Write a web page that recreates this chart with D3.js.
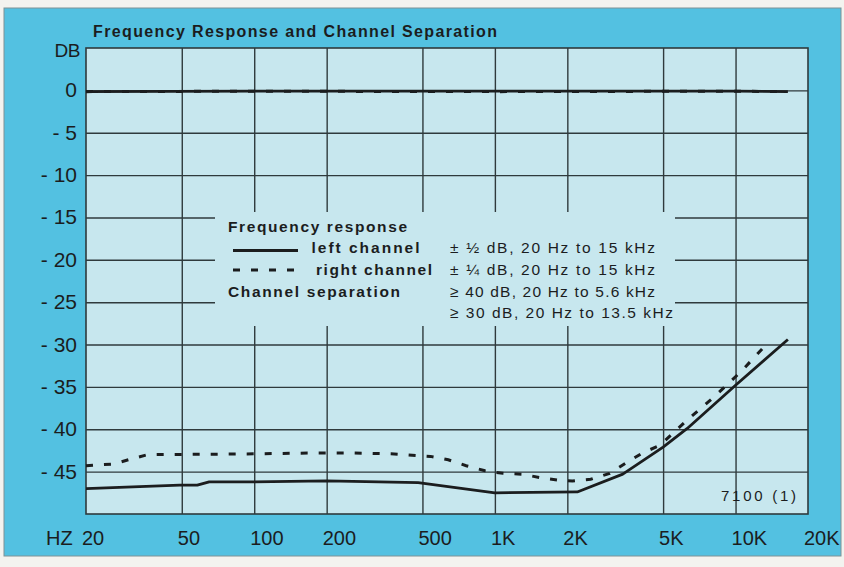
<!DOCTYPE html>
<html>
<head>
<meta charset="utf-8">
<script src="https://cdn.jsdelivr.net/npm/d3@7"></script>
<style>
  html, body { margin: 0; padding: 0; background: #f3f3ef; }
  svg { display: block; }
  text { font-family: "Liberation Sans", Arial, Helvetica, sans-serif; fill: #1b1d1e; }
</style>
</head>
<body>
<svg id="chart" width="844" height="567"></svg>
<script>
// ---------- data ----------
const xTickValues = [20, 50, 100, 200, 500, 1000, 2000, 5000, 10000, 20000];
const xTickLabels = ["20", "50", "100", "200", "500", "1K", "2K", "5K", "10K", "20K"];
const yTickValues = [0, -5, -10, -15, -20, -25, -30, -35, -40, -45];
const yTickLabels = ["0", "- 5", "- 10", "- 15", "- 20", "- 25", "- 30", "- 35", "- 40", "- 45"];

// frequency response (0 dB region)
const leftResponseFreq = [20, 100, 1000, 10000, 16500];
const leftResponseDb   = [-0.15, -0.1, -0.1, -0.1, -0.15];
const rightResponseFreq = [20, 100, 1000, 10000, 16500];
const rightResponseDb   = [-0.15, -0.1, -0.15, -0.1, -0.15];

// channel separation
const leftSepFreq = [20, 49, 58, 65, 100, 200, 480, 1000, 2200, 3400, 5000, 6300, 10000, 16500];
const leftSepDb   = [-47.0, -46.6, -46.6, -46.2, -46.2, -46.1, -46.3, -47.5, -47.4, -45.3, -42.1, -39.9, -34.8, -29.4];
const rightSepFreq = [20, 26, 30, 36, 100, 180, 260, 370, 540, 640, 760, 910, 1080, 1290, 1540, 1830, 2100, 2500, 3000, 3500, 4100, 4850, 6300, 8200, 10700, 13600];
const rightSepDb   = [-44.3, -44.1, -43.6, -43.0, -42.9, -42.8, -42.8, -42.9, -43.2, -43.6, -44.3, -44.9, -45.2, -45.3, -45.7, -46.0, -46.1, -45.9, -45.2, -44.0, -42.8, -41.9, -38.9, -36.1, -33.0, -29.8];

const titleText = "Frequency Response and Channel Separation";
const legendLeft = ["Frequency response", "left channel", "right channel", "Channel separation"];
const legendRight = ["\u00B1 \u00BD dB, 20 Hz to 15 kHz", "\u00B1 \u00BC dB, 20 Hz to 15 kHz", "\u2265 40 dB, 20 Hz to 5.6 kHz", "\u2265 30 dB, 20 Hz to 13.5 kHz"];
const figureCode = "7100 (1)";

// ---------- layout ----------
const svg = d3.select("#chart");
const X0 = 86, X1 = 808, Y0 = 48, Y1 = 514;
const x = d3.scaleLog().domain([20, 20000]).range([X0, X1]);
const y = d3.scaleLinear().domain([-50, 5]).range([Y1, Y0]);

const panelColor = "#53c1e1";
const plotColor = "#c7e7ee";
const gridColor = "#2f3a3c";
const inkColor = "#1b1d1e";

// outer panel
svg.append("rect").attr("x", 4).attr("y", 8).attr("width", 837).attr("height", 548)
  .attr("fill", panelColor).attr("stroke", "#7f9296").attr("stroke-width", 1);

// plot area
svg.append("rect").attr("x", X0).attr("y", Y0).attr("width", X1 - X0).attr("height", Y1 - Y0)
  .attr("fill", plotColor);

// grid
const gx = svg.append("g").attr("transform", `translate(0,${Y1})`)
  .call(d3.axisBottom(x).tickValues(xTickValues.slice(1, -1)).tickSize(-(Y1 - Y0)).tickFormat(""));
gx.select(".domain").remove();
gx.selectAll("line").attr("stroke", gridColor).attr("stroke-width", 1.4);

const gy = svg.append("g").attr("transform", `translate(${X0},0)`)
  .call(d3.axisLeft(y).tickValues(yTickValues).tickSize(-(X1 - X0)).tickFormat(""));
gy.select(".domain").remove();
gy.selectAll("line").attr("stroke", gridColor).attr("stroke-width", 1.4);

// legend background (covers grid)
svg.append("rect").attr("x", 215).attr("y", 212).attr("width", 460).attr("height", 114)
  .attr("fill", plotColor);

// frame
svg.append("rect").attr("x", X0).attr("y", Y0).attr("width", X1 - X0).attr("height", Y1 - Y0)
  .attr("fill", "none").attr("stroke", gridColor).attr("stroke-width", 1.6);

// curves
const line = d3.line().x(d => x(d[0])).y(d => y(d[1]));
const zip = (a, b) => a.map((v, i) => [v, b[i]]);

const solidStyle = sel => sel.attr("fill", "none").attr("stroke", inkColor).attr("stroke-width", 2.8)
  .attr("stroke-linejoin", "round");
const dashStyle = sel => sel.attr("fill", "none").attr("stroke", inkColor).attr("stroke-width", 3)
  .attr("stroke-dasharray", "7,11");

svg.append("path").datum(zip(rightResponseFreq, rightResponseDb)).attr("d", line).call(dashStyle);
svg.append("path").datum(zip(leftResponseFreq, leftResponseDb)).attr("d", line).call(solidStyle);
svg.append("path").datum(zip(rightSepFreq, rightSepDb)).attr("d", line).call(dashStyle);
svg.append("path").datum(zip(leftSepFreq, leftSepDb)).attr("d", line).call(solidStyle);

// y tick labels
svg.append("g").selectAll("text").data(yTickValues).join("text")
  .attr("x", 77).attr("y", d => y(d) + 7)
  .attr("text-anchor", "end").attr("font-size", 21)
  .text((d, i) => yTickLabels[i]);
svg.append("text").attr("x", 80).attr("y", 57).attr("text-anchor", "end")
  .attr("font-size", 19).attr("letter-spacing", -0.5).text("DB");

// x tick labels
svg.append("g").selectAll("text").data(xTickValues).join("text")
  .attr("x", d => x(d) - 4).attr("y", 545)
  .attr("text-anchor", "start").attr("font-size", 20)
  .text((d, i) => xTickLabels[i]);
svg.append("text").attr("x", 46).attr("y", 545).attr("font-size", 20).text("HZ");

// title
svg.append("text").attr("x", 93).attr("y", 37).attr("font-size", 16).attr("font-weight", "bold")
  .attr("textLength", 404).attr("lengthAdjust", "spacing").text(titleText);

// legend
const legRowsY = [231.5, 253, 275, 296.5];
const leftX = [228, 311.5, 316, 228];
const leftW = [179, 108, 116, 172];
svg.append("g").selectAll("text").data(legendLeft).join("text")
  .attr("x", (d, i) => leftX[i]).attr("y", (d, i) => legRowsY[i])
  .attr("font-size", 15.5).attr("font-weight", "bold")
  .attr("textLength", (d, i) => leftW[i]).attr("lengthAdjust", "spacing")
  .text(d => d);

const rightY = [253, 275, 296.5, 318];
const rightW = [205, 205, 205, 223];
svg.append("g").selectAll("text").data(legendRight).join("text")
  .attr("x", 450).attr("y", (d, i) => rightY[i])
  .attr("font-size", 15.5)
  .attr("textLength", (d, i) => rightW[i]).attr("lengthAdjust", "spacing")
  .text(d => d);

svg.append("line").attr("x1", 233).attr("x2", 298).attr("y1", 250.5).attr("y2", 250.5).call(solidStyle);
svg.append("line").attr("x1", 233).attr("x2", 298).attr("y1", 270).attr("y2", 270).call(dashStyle);

// figure code
svg.append("text").attr("x", 721).attr("y", 501).attr("font-size", 15)
  .attr("textLength", 75).attr("lengthAdjust", "spacing").text(figureCode);
</script>
</body>
</html>
